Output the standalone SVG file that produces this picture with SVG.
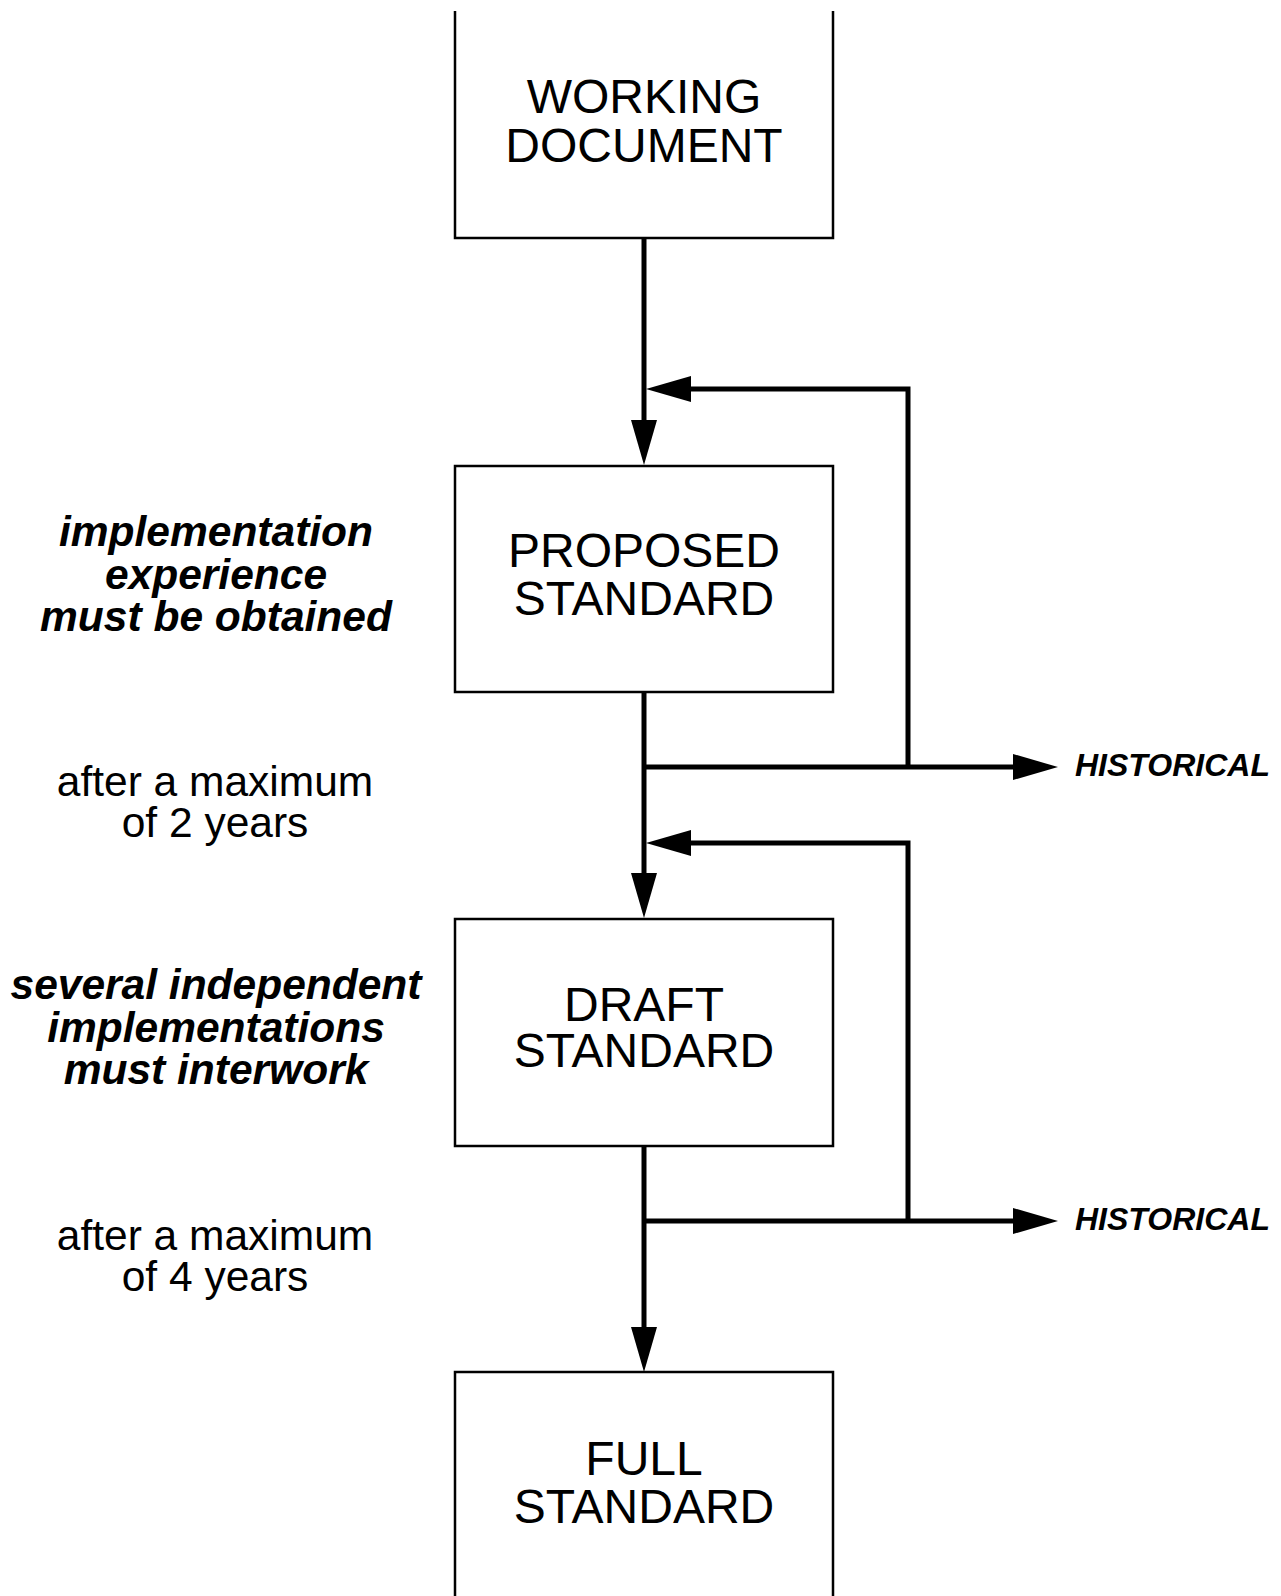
<svg xmlns="http://www.w3.org/2000/svg" width="1281" height="1596" viewBox="0 0 1281 1596">
  <style>
    .box { fill: #ffffff; stroke: #000000; stroke-width: 2.5; }
    .conn { fill: none; stroke: #000000; stroke-width: 5; }
    .node-text { font-family: "Liberation Sans", Arial, sans-serif; font-size: 48px; fill: #000000; text-anchor: middle; }
    .note-bi { font-family: "Liberation Sans", Arial, sans-serif; font-size: 42.5px; font-weight: bold; font-style: italic; fill: #000000; text-anchor: middle; }
    .note { font-family: "Liberation Sans", Arial, sans-serif; font-size: 42.5px; fill: #000000; text-anchor: middle; }
    .hist { font-family: "Liberation Sans", Arial, sans-serif; font-size: 32px; font-weight: bold; font-style: italic; fill: #000000; }
  </style>
  <defs>
    <marker id="arrow" markerUnits="userSpaceOnUse" markerWidth="46" markerHeight="26" refX="0" refY="13" orient="auto" overflow="visible">
      <path d="M0,0 L45,13 L0,26 Z" fill="#000000"/>
    </marker>
  </defs>
  <rect width="1281" height="1596" fill="#ffffff"/>

  <g id="working-document">
    <path class="box" d="M455,11 V238 H833 V11"/>
    <text class="node-text" x="644" y="113">WORKING</text>
    <text class="node-text" x="644" y="162">DOCUMENT</text>
  </g>

  <g id="proposed-standard">
    <rect class="box" x="455" y="466" width="378" height="226"/>
    <text class="node-text" x="644" y="567">PROPOSED</text>
    <text class="node-text" x="644" y="615">STANDARD</text>
  </g>

  <g id="draft-standard">
    <rect class="box" x="455" y="919" width="378" height="227"/>
    <text class="node-text" x="644" y="1021">DRAFT</text>
    <text class="node-text" x="644" y="1067">STANDARD</text>
  </g>

  <g id="full-standard">
    <path class="box" d="M455,1600 V1372 H833 V1600"/>
    <text class="node-text" x="644" y="1475">FULL</text>
    <text class="node-text" x="644" y="1523">STANDARD</text>
  </g>

  <g id="historical-1">
    <text class="hist" x="1075" y="776">HISTORICAL</text>
  </g>
  <g id="historical-2">
    <text class="hist" x="1075" y="1230">HISTORICAL</text>
  </g>

  <g id="note-implementation-experience">
    <text class="note-bi" x="216" y="546">implementation</text>
    <text class="note-bi" x="216" y="589">experience</text>
    <text class="note-bi" x="216" y="631">must be obtained</text>
  </g>
  <g id="note-2-years">
    <text class="note" x="215" y="796">after a maximum</text>
    <text class="note" x="215" y="837">of 2 years</text>
  </g>
  <g id="note-interwork">
    <text class="note-bi" x="216" y="999">several independent</text>
    <text class="note-bi" x="216" y="1042">implementations</text>
    <text class="note-bi" x="216" y="1084">must interwork</text>
  </g>
  <g id="note-4-years">
    <text class="note" x="215" y="1250">after a maximum</text>
    <text class="note" x="215" y="1291">of 4 years</text>
  </g>

  <g id="connectors">
    <path class="conn" d="M644,238 V420" marker-end="url(#arrow)"/>
    <path class="conn" d="M644,692 V873" marker-end="url(#arrow)"/>
    <path class="conn" d="M644,1146 V1327" marker-end="url(#arrow)"/>
    <path class="conn" d="M644,767 H1013" marker-end="url(#arrow)"/>
    <path class="conn" d="M644,1221 H1013" marker-end="url(#arrow)"/>
    <path class="conn" d="M908,767 V389 H691" marker-end="url(#arrow)"/>
    <path class="conn" d="M908,1221 V843 H691" marker-end="url(#arrow)"/>
  </g>
</svg>
